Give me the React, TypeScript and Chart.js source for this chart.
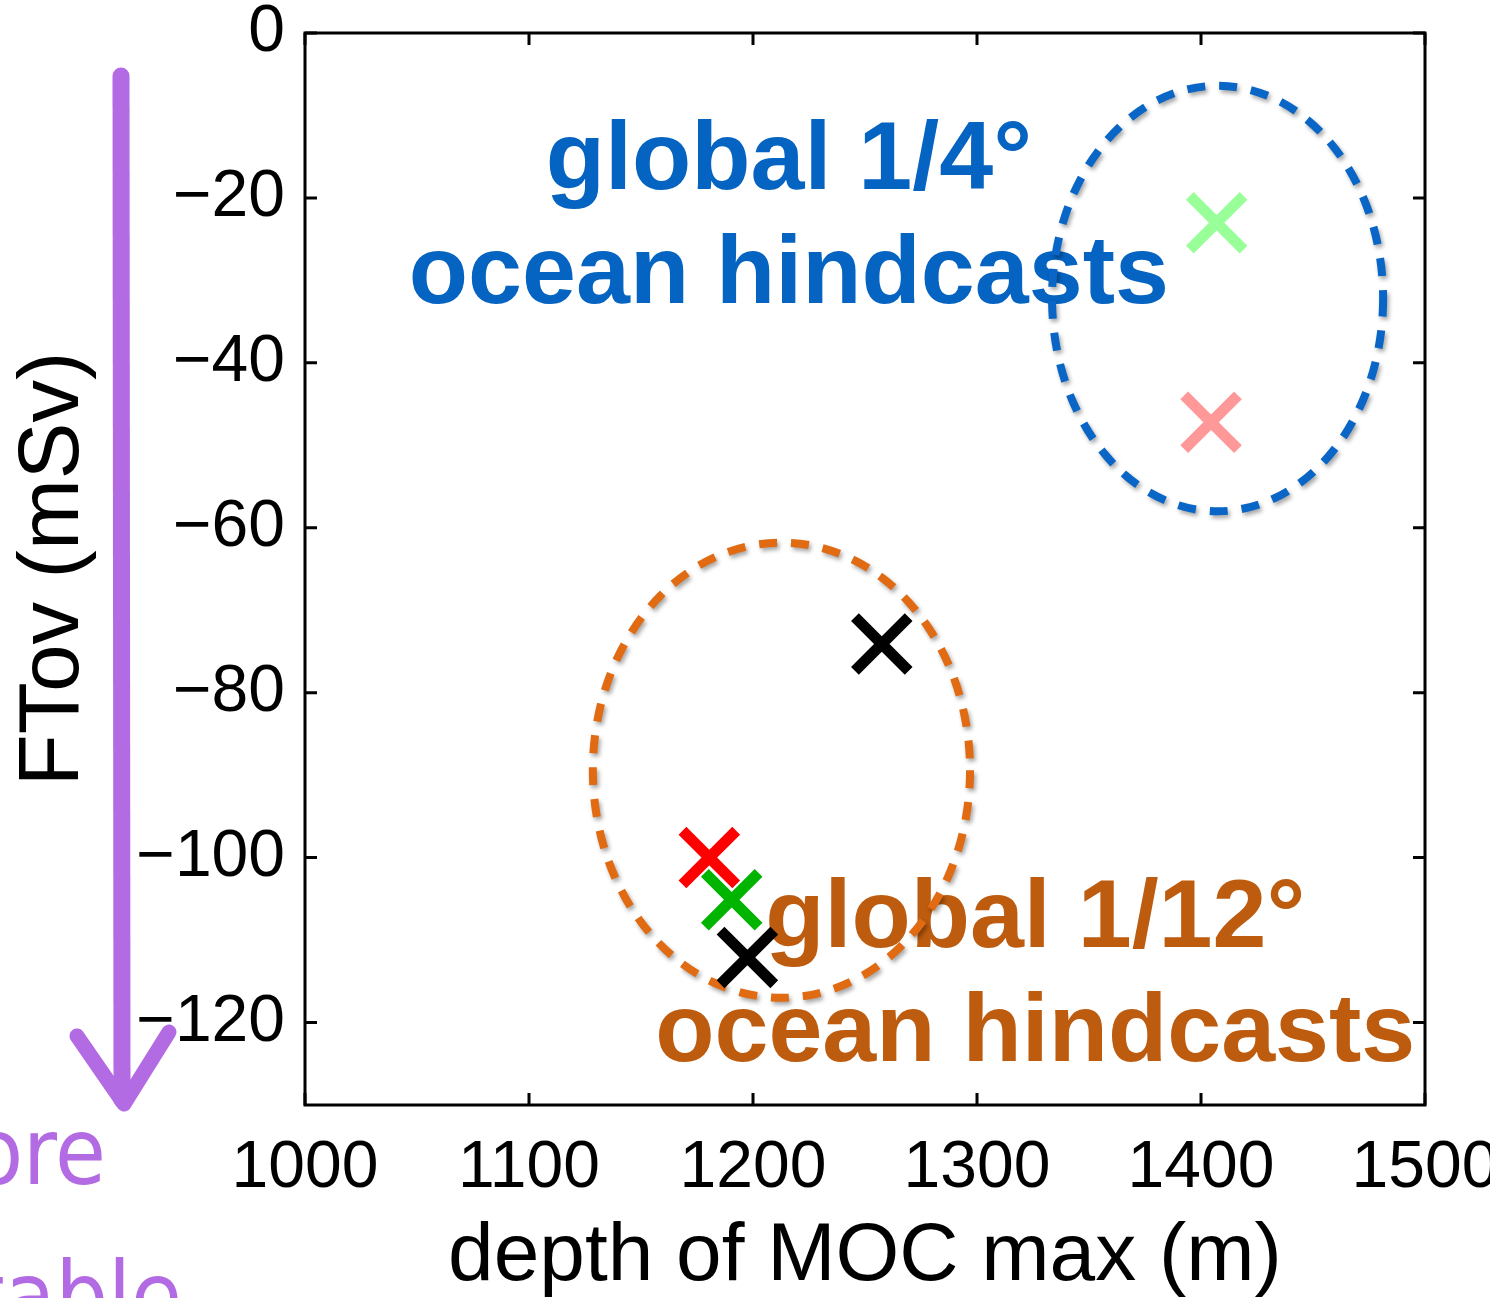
import { useEffect, useRef } from 'react';
import { Chart, registerables } from 'chart.js';

Chart.register(...registerables);

// ---- data ----
const xTickValues = [1000, 1100, 1200, 1300, 1400, 1500];
const yTickValues = [0, -20, -40, -60, -80, -100, -120];

// hindcast runs: depth of MOC max (m) and FTov (mSv)
const runDepth = [1407, 1404.5, 1257.5, 1180.5, 1190.5, 1197.5];
const runFTov = [-23.0, -47.2, -74.1, -100.0, -105.1, -112.1];
const runColors = ['#99ff99', '#ff9999', '#000000', '#ff0000', '#00b400', '#000000'];

// group ellipses (data units)
const ellipseCenterX = [1407.4, 1212.7];
const ellipseCenterY = [-32.2, -89.4];
const ellipseRadiusX = [73.9, 84.2];
const ellipseRadiusY = [25.8, 27.6];
const ellipseColors = ['#0a66c6', '#e06b12'];

// group labels
const groupLines = [
  ['global 1/4°', 'ocean hindcasts'],
  ['global 1/12°', 'ocean hindcasts'],
];
const groupTextColors = ['#0563c1', '#bd5b0f'];
const groupTextX = [1216, 1326];
const groupTextY = [
  [-18.9, -32.7],
  [-110.9, -124.7],
];

const xTitle = 'depth of MOC max (m)';
const yTitle = 'FTov (mSv)';
const noteLines = ['more', 'stable'];

const FONT = '"Liberation Sans", Helvetica, Arial, sans-serif';
const PURPLE = '#b36be3';

const overlay = {
  id: 'overlay',
  beforeDatasetsDraw(chart: any) {
    const { ctx, chartArea: a, scales } = chart;
    const x = scales.x;
    const y = scales.y;
    ctx.save();
    // axes box
    ctx.strokeStyle = '#000';
    ctx.lineWidth = 3;
    ctx.strokeRect(a.left, a.top, a.right - a.left, a.bottom - a.top);
    // inside ticks on all four sides
    ctx.beginPath();
    xTickValues.forEach((v) => {
      const px = x.getPixelForValue(v);
      ctx.moveTo(px, a.bottom);
      ctx.lineTo(px, a.bottom - 12);
      ctx.moveTo(px, a.top);
      ctx.lineTo(px, a.top + 12);
    });
    yTickValues.forEach((v) => {
      const py = y.getPixelForValue(v);
      ctx.moveTo(a.left, py);
      ctx.lineTo(a.left + 12, py);
      ctx.moveTo(a.right, py);
      ctx.lineTo(a.right - 12, py);
    });
    ctx.stroke();

    // group labels
    ctx.font = `bold 97px ${FONT}`;
    ctx.textAlign = 'center';
    ctx.textBaseline = 'alphabetic';
    groupLines.forEach((lines, g) => {
      ctx.fillStyle = groupTextColors[g];
      lines.forEach((t, i) => {
        ctx.fillText(t, x.getPixelForValue(groupTextX[g]), y.getPixelForValue(groupTextY[g][i]));
      });
    });

    // dashed ellipses with soft shadow
    ctx.lineWidth = 8;
    ctx.setLineDash([18, 14]);
    ctx.shadowColor = 'rgba(0,0,0,0.35)';
    ctx.shadowBlur = 4;
    ctx.shadowOffsetX = 2;
    ctx.shadowOffsetY = 3;
    ellipseCenterX.forEach((cx, i) => {
      const px = x.getPixelForValue(cx);
      const py = y.getPixelForValue(ellipseCenterY[i]);
      const rx = Math.abs(x.getPixelForValue(cx + ellipseRadiusX[i]) - px);
      const ry = Math.abs(y.getPixelForValue(ellipseCenterY[i] + ellipseRadiusY[i]) - py);
      ctx.strokeStyle = ellipseColors[i];
      ctx.beginPath();
      ctx.ellipse(px, py, rx, ry, 0, 0, Math.PI * 2);
      ctx.stroke();
    });
    ctx.restore();
  },
  afterDraw(chart: any) {
    const { ctx } = chart;
    ctx.save();
    // hand-drawn purple arrow
    ctx.strokeStyle = PURPLE;
    ctx.lineCap = 'round';
    ctx.lineJoin = 'round';
    ctx.lineWidth = 17;
    ctx.beginPath();
    ctx.moveTo(121, 76);
    ctx.lineTo(122, 1100);
    ctx.stroke();
    ctx.lineWidth = 15;
    ctx.beginPath();
    ctx.moveTo(77, 1036);
    ctx.lineTo(124, 1104);
    ctx.lineTo(169, 1032);
    ctx.stroke();
    // handwritten note (cut by the canvas edge)
    ctx.fillStyle = PURPLE;
    ctx.font = `92px "DejaVu Sans Condensed", "DejaVu Sans", sans-serif`;
    ctx.textAlign = 'right';
    ctx.textBaseline = 'alphabetic';
    ctx.fillText(noteLines[0], 106, 1184);
    ctx.fillText(noteLines[1], 182, 1328);
    ctx.restore();
  },
};

export default function App() {
  const ref = useRef<HTMLCanvasElement | null>(null);

  useEffect(() => {
    if (!ref.current) return;
    const chart = new Chart(ref.current, {
      type: 'scatter',
      data: {
        datasets: [
          {
            label: 'hindcasts',
            data: runDepth.map((d, i) => ({ x: d, y: runFTov[i] })),
            pointStyle: 'crossRot',
            pointRadius: 38,
            pointHoverRadius: 38,
            pointBorderWidth: 11,
            pointHoverBorderWidth: 11,
            pointBorderColor: runColors,
            pointBackgroundColor: runColors,
            showLine: false,
          } as any,
        ],
      },
      options: {
        responsive: false,
        maintainAspectRatio: false,
        animation: false,
        events: [],
        layout: { autoPadding: false, padding: { top: 33, right: 65, left: 0, bottom: 0 } },
        plugins: { legend: { display: false }, tooltip: { enabled: false } },
        scales: {
          x: {
            type: 'linear',
            position: 'bottom',
            min: 1000,
            max: 1500,
            afterBuildTicks: (s: any) => {
              s.ticks = xTickValues.map((v) => ({ value: v }));
            },
            afterFit: (s: any) => {
              s.height = 193;
              s.paddingLeft = 0;
              s.paddingRight = 0;
            },
            grid: { display: false, drawTicks: false },
            border: { display: false },
            ticks: {
              color: '#000',
              padding: 24,
              maxRotation: 0,
              autoSkip: false,
              font: { family: FONT, size: 66, lineHeight: 1.2 },
              callback: (v: any) => String(v),
            },
            title: {
              display: true,
              text: xTitle,
              color: '#000',
              font: { family: FONT, size: 82, lineHeight: 1 },
              padding: { top: 0, bottom: 0 },
            },
          },
          y: {
            type: 'linear',
            min: -130,
            max: 0,
            afterBuildTicks: (s: any) => {
              s.ticks = yTickValues.map((v) => ({ value: v }));
            },
            afterFit: (s: any) => {
              s.width = 305;
              s.paddingTop = 0;
              s.paddingBottom = 0;
            },
            grid: { display: false, drawTicks: false },
            border: { display: false },
            ticks: {
              color: '#000',
              padding: 20,
              autoSkip: false,
              font: { family: FONT, size: 66, lineHeight: 1.2 },
              callback: (v: any) => (v < 0 ? '\u2212' + Math.abs(v) : String(v)),
            },
            title: {
              display: true,
              text: yTitle,
              color: '#000',
              font: { family: FONT, size: 85, lineHeight: 1 },
              padding: { top: 12, bottom: 0 },
            },
          },
        },
      } as any,
      plugins: [overlay],
    });
    return () => chart.destroy();
  }, []);

  return (
    <div style={{ position: 'absolute', left: 0, top: 0, width: 1490, height: 1298, background: '#fff' }}>
      <canvas ref={ref} width={1490} height={1298} style={{ display: 'block' }} />
    </div>
  );
}
